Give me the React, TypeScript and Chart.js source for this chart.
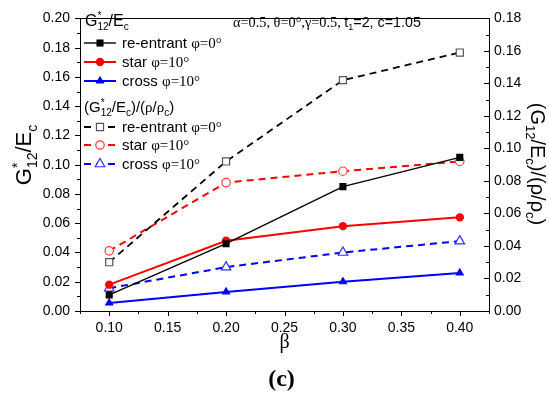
import React, { useEffect, useRef } from 'react';
import { Chart, registerables } from 'chart.js';

Chart.register(...registerables);

// ---------- data ----------
const betaValues = [0.1, 0.2, 0.3, 0.4];
const reentrantModulus = [0.011, 0.046, 0.085, 0.105];
const starModulus = [0.018, 0.048, 0.058, 0.064];
const crossModulus = [0.0055, 0.013, 0.02, 0.026];
const reentrantSpecific = [0.03, 0.092, 0.142, 0.159];
const starSpecific = [0.037, 0.079, 0.086, 0.092];
const crossSpecific = [0.014, 0.027, 0.036, 0.043];

const seriesNames = ['re-entrant', 'star', 'cross'];
const angleLabels = ['φ=0°', 'φ=10°', 'φ=10°'];

const xTickValues = [0.1, 0.15, 0.2, 0.25, 0.3, 0.35, 0.4];
const leftTickValues = [0, 0.02, 0.04, 0.06, 0.08, 0.1, 0.12, 0.14, 0.16, 0.18, 0.2];
const rightTickValues = [0, 0.02, 0.04, 0.06, 0.08, 0.1, 0.12, 0.14, 0.16, 0.18];

const SANS = '"Liberation Sans", Arial, sans-serif';
const SERIF = '"Liberation Serif", "Times New Roman", serif';

type Seg = { t: string; size: number; serif?: boolean; bold?: boolean; dy?: number; sup?: string; supDy?: number; supSize?: number };

function fontOf(size: number, serif?: boolean, bold?: boolean) {
  return `${bold ? 'bold ' : ''}${size}px ${serif ? SERIF : SANS}`;
}

function segWidth(ctx: CanvasRenderingContext2D, s: Seg) {
  ctx.font = fontOf(s.size, s.serif, s.bold);
  let w = ctx.measureText(s.t).width;
  if (s.sup) {
    ctx.font = fontOf(s.supSize || s.size, s.serif, s.bold);
    w = Math.max(w, ctx.measureText(s.sup).width);
  }
  return w;
}

function richWidth(ctx: CanvasRenderingContext2D, segs: Seg[]) {
  return segs.reduce((a, s) => a + segWidth(ctx, s), 0);
}

function drawRich(ctx: CanvasRenderingContext2D, segs: Seg[], x: number, y: number) {
  ctx.textBaseline = 'alphabetic';
  ctx.textAlign = 'left';
  let cx = x;
  for (const s of segs) {
    const w = segWidth(ctx, s);
    ctx.font = fontOf(s.size, s.serif, s.bold);
    ctx.fillText(s.t, cx, y + (s.dy || 0));
    if (s.sup) {
      ctx.font = fontOf(s.supSize || s.size, s.serif, s.bold);
      ctx.fillText(s.sup, cx, y + (s.supDy || 0));
    }
    cx += w;
  }
}

function modulusLabel(size: number): Seg[] {
  const sub = Math.round(size * 0.65);
  return [
    { t: 'G', size },
    { t: '12', size: sub, dy: size * 0.25, sup: '*', supSize: sub, supDy: -size * 0.42 },
    { t: '/', size },
    { t: 'E', size },
    { t: 'c', size: sub, dy: size * 0.25 },
  ];
}

function specificLabel(size: number, star: boolean, rhoSerif: boolean): Seg[] {
  const sub = Math.round(size * 0.65);
  return [
    { t: '(G', size },
    star
      ? { t: '12', size: sub, dy: size * 0.25, sup: '*', supSize: sub, supDy: -size * 0.42 }
      : { t: '12', size: sub, dy: size * 0.25 },
    { t: '/E', size },
    { t: 'c', size: sub, dy: size * 0.25 },
    { t: ')/(', size },
    { t: 'ρ', size, serif: rhoSerif },
    { t: '/', size },
    { t: 'ρ', size, serif: rhoSerif },
    { t: 'c', size: sub, dy: size * 0.25 },
    { t: ')', size },
  ];
}

function drawMarker(
  ctx: CanvasRenderingContext2D,
  style: string,
  x: number,
  y: number,
  r: number,
  fill: string,
  stroke: string,
  lw: number
) {
  ctx.beginPath();
  if (style === 'rect') {
    const s = r * Math.SQRT1_2;
    ctx.rect(x - s, y - s, 2 * s, 2 * s);
  } else if (style === 'circle') {
    ctx.arc(x, y, r, 0, Math.PI * 2);
  } else {
    let a = 0;
    ctx.moveTo(x + Math.sin(a) * r, y - Math.cos(a) * r);
    a += (2 * Math.PI) / 3;
    ctx.lineTo(x + Math.sin(a) * r, y - Math.cos(a) * r);
    a += (2 * Math.PI) / 3;
    ctx.lineTo(x + Math.sin(a) * r, y - Math.cos(a) * r);
    ctx.closePath();
  }
  ctx.fillStyle = fill;
  ctx.fill();
  if (lw > 0) {
    ctx.lineWidth = lw;
    ctx.strokeStyle = stroke;
    ctx.setLineDash([]);
    ctx.stroke();
  }
}

function minorOf(ticks: number[], min: number, max: number) {
  const out: number[] = [];
  const step = ticks[1] - ticks[0];
  const first = ticks[0] - step / 2;
  if (first >= min - 1e-9) out.push(first);
  for (let i = 0; i < ticks.length - 1; i++) out.push((ticks[i] + ticks[i + 1]) / 2);
  const last = ticks[ticks.length - 1] + step / 2;
  if (last <= max + 1e-9) out.push(last);
  return out;
}

const decorPlugin = {
  id: 'decor',
  afterDraw(chart: any) {
    const ctx: CanvasRenderingContext2D = chart.ctx;
    const { left, right, top, bottom } = chart.chartArea;
    const xs = chart.scales.x;
    const yl = chart.scales.y;
    const yr = chart.scales.y1;
    ctx.save();
    ctx.strokeStyle = '#000';
    ctx.lineWidth = 1;
    ctx.setLineDash([]);
    const seg = (x1: number, y1: number, x2: number, y2: number) => {
      ctx.beginPath();
      ctx.moveTo(x1, y1);
      ctx.lineTo(x2, y2);
      ctx.stroke();
    };
    // top frame
    seg(left, Math.round(top) + 0.5, right, Math.round(top) + 0.5);
    // bottom ticks (outward)
    xTickValues.forEach((v) => {
      const p = Math.round(xs.getPixelForValue(v)) + 0.5;
      seg(p, bottom, p, bottom + 5);
    });
    minorOf(xTickValues, xs.min, xs.max).forEach((v) => {
      const p = Math.round(xs.getPixelForValue(v)) + 0.5;
      seg(p, bottom, p, bottom + 3);
    });
    // left ticks (outward)
    leftTickValues.forEach((v) => {
      const p = Math.round(yl.getPixelForValue(v)) + 0.5;
      seg(left - 5, p, left, p);
    });
    minorOf(leftTickValues, yl.min, yl.max).forEach((v) => {
      const p = Math.round(yl.getPixelForValue(v)) + 0.5;
      seg(left - 3, p, left, p);
    });
    // right ticks (inward)
    rightTickValues.forEach((v) => {
      const p = Math.round(yr.getPixelForValue(v)) + 0.5;
      seg(right - 5, p, right, p);
    });
    minorOf(rightTickValues, yr.min, yr.max).forEach((v) => {
      const p = Math.round(yr.getPixelForValue(v)) + 0.5;
      seg(right - 3, p, right, p);
    });

    ctx.fillStyle = '#000';
    // left axis title (rotated)
    {
      const segs = modulusLabel(22);
      const w = richWidth(ctx, segs);
      ctx.save();
      ctx.translate(31, 155);
      ctx.rotate(-Math.PI / 2);
      drawRich(ctx, segs, -w / 2, 0);
      ctx.restore();
    }
    // right axis title (rotated clockwise)
    {
      const segs = specificLabel(20, false, false);
      const w = richWidth(ctx, segs);
      ctx.save();
      ctx.translate(531, 164);
      ctx.rotate(Math.PI / 2);
      drawRich(ctx, segs, -w / 2, 0);
      ctx.restore();
    }
    // x title
    {
      ctx.font = fontOf(20, true);
      ctx.textAlign = 'center';
      ctx.textBaseline = 'middle';
      ctx.fillText('β', (left + right) / 2, 343);
      ctx.font = fontOf(24, true, true);
      ctx.fillText('(c)', (left + right) / 2 - 3, 380);
    }
    // annotation
    {
      const segs: Seg[] = [
        { t: 'α=0.5, θ=0°,γ=0.5, ', size: 14.3, serif: true },
        { t: 't', size: 14.3 },
        { t: '1', size: 9, dy: 3 },
        { t: '=2, c=1.05', size: 14.3 },
      ];
      drawRich(ctx, segs, 233, 27);
    }
    // legend
    {
      const lx0 = 84;
      const lx1 = 116;
      const tx = 122;
      drawRich(ctx, modulusLabel(16), 85, 26);
      drawRich(ctx, specificLabel(15, true, true), 84, 112);
      const rows = [43, 62, 81, 127, 145, 164];
      rows.forEach((ry, i) => {
        const ds = chart.data.datasets[i];
        ctx.save();
        ctx.strokeStyle = ds.borderColor;
        ctx.lineWidth = ds.borderWidth;
        ctx.setLineDash(ds.borderDash || []);
        ctx.beginPath();
        ctx.moveTo(lx0, ry);
        ctx.lineTo(lx1, ry);
        ctx.stroke();
        ctx.restore();
        drawMarker(
          ctx,
          ds.pointStyle,
          (lx0 + lx1) / 2,
          ry,
          ds.pointRadius,
          ds.pointBackgroundColor,
          ds.pointBorderColor,
          ds.pointBorderWidth
        );
        ctx.fillStyle = '#000';
        drawRich(
          ctx,
          [
            { t: seriesNames[i % 3] + ' ', size: 15 },
            { t: angleLabels[i % 3], size: 15, serif: true },
          ],
          tx,
          ry + 5
        );
      });
    }
    ctx.restore();
  },
};

const fixedTicks = (values: number[]) => (scale: any) => {
  scale.ticks = values.map((v) => ({ value: v }));
};

export default function App() {
  const ref = useRef<HTMLCanvasElement>(null);

  useEffect(() => {
    const canvas = ref.current;
    if (!canvas) return;
    const mk = (xs: number[], ys: number[]) => xs.map((x, i) => ({ x, y: ys[i] }));
    const chart = new Chart(canvas, {
      type: 'line',
      data: {
        datasets: [
          {
            label: 're-entrant φ=0°',
            data: mk(betaValues, reentrantModulus),
            yAxisID: 'y',
            borderColor: '#000000',
            borderWidth: 1.4,
            pointStyle: 'rect',
            pointRadius: 5,
            pointBackgroundColor: '#000000',
            pointBorderColor: '#000000',
            pointBorderWidth: 0,
          },
          {
            label: 'star φ=10°',
            data: mk(betaValues, starModulus),
            yAxisID: 'y',
            borderColor: '#ff0000',
            borderWidth: 2,
            pointStyle: 'circle',
            pointRadius: 4.2,
            pointBackgroundColor: '#ff0000',
            pointBorderColor: '#ff0000',
            pointBorderWidth: 0,
          },
          {
            label: 'cross φ=10°',
            data: mk(betaValues, crossModulus),
            yAxisID: 'y',
            borderColor: '#0000ff',
            borderWidth: 2,
            pointStyle: 'triangle',
            pointRadius: 5.2,
            pointBackgroundColor: '#0000ff',
            pointBorderColor: '#0000ff',
            pointBorderWidth: 0,
          },
          {
            label: 're-entrant φ=0° (specific)',
            data: mk(betaValues, reentrantSpecific),
            yAxisID: 'y1',
            borderColor: '#000000',
            borderWidth: 1.8,
            borderDash: [7, 5],
            pointStyle: 'rect',
            pointRadius: 5,
            pointBackgroundColor: '#ffffff',
            pointBorderColor: '#555555',
            pointBorderWidth: 1.2,
          },
          {
            label: 'star φ=10° (specific)',
            data: mk(betaValues, starSpecific),
            yAxisID: 'y1',
            borderColor: '#ff0000',
            borderWidth: 2,
            borderDash: [7, 5],
            pointStyle: 'circle',
            pointRadius: 4.2,
            pointBackgroundColor: '#ffffff',
            pointBorderColor: '#ff4040',
            pointBorderWidth: 1.2,
          },
          {
            label: 'cross φ=10° (specific)',
            data: mk(betaValues, crossSpecific),
            yAxisID: 'y1',
            borderColor: '#0000ff',
            borderWidth: 2,
            borderDash: [7, 5],
            pointStyle: 'triangle',
            pointRadius: 5.5,
            pointBackgroundColor: '#ffffff',
            pointBorderColor: '#3030ff',
            pointBorderWidth: 1.2,
          },
        ],
      },
      options: {
        responsive: false,
        animation: false,
        events: [],
        layout: { padding: { top: 7, left: 0, right: 0, bottom: 0 } },
        plugins: {
          legend: { display: false },
          tooltip: { enabled: false },
          title: { display: false },
        },
        elements: { line: { tension: 0 } },
        scales: {
          x: {
            type: 'linear',
            min: 0.075,
            max: 0.425,
            afterBuildTicks: fixedTicks(xTickValues),
            afterFit: (s: any) => {
              s.height = 92;
            },
            grid: { display: false, drawTicks: false },
            border: { display: true, color: '#000', width: 1 },
            ticks: {
              padding: 9,
              color: '#000',
              font: { family: SANS, size: 14 },
              maxRotation: 0,
              autoSkip: false,
              callback: (v: any) => Number(v).toFixed(2),
            },
          },
          y: {
            type: 'linear',
            position: 'left',
            min: 0,
            max: 0.2,
            afterBuildTicks: fixedTicks(leftTickValues),
            afterFit: (s: any) => {
              s.width = 80;
            },
            grid: { display: false, drawTicks: false },
            border: { display: true, color: '#000', width: 1 },
            ticks: {
              padding: 10,
              color: '#000',
              font: { family: SANS, size: 14 },
              autoSkip: false,
              callback: (v: any) => Number(v).toFixed(2),
            },
          },
          y1: {
            type: 'linear',
            position: 'right',
            min: 0,
            max: 0.18,
            afterBuildTicks: fixedTicks(rightTickValues),
            afterFit: (s: any) => {
              s.width = 60;
            },
            grid: { display: false, drawTicks: false },
            border: { display: true, color: '#000', width: 1 },
            ticks: {
              padding: 5,
              color: '#000',
              font: { family: SANS, size: 14 },
              autoSkip: false,
              callback: (v: any) => Number(v).toFixed(2),
            },
          },
        },
      } as any,
      plugins: [decorPlugin as any],
    });
    return () => chart.destroy();
  }, []);

  return (
    <div style={{ position: 'fixed', left: 0, top: 0, width: 549, height: 403, background: '#ffffff' }}>
      <canvas ref={ref} width={549} height={403} style={{ display: 'block', width: 549, height: 403 }} />
    </div>
  );
}
